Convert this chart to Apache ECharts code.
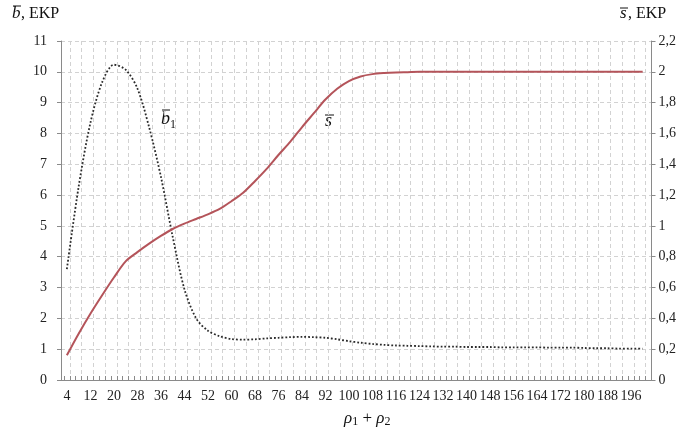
<!DOCTYPE html>
<html><head><meta charset="utf-8">
<script src="https://cdn.jsdelivr.net/npm/echarts@6/dist/echarts.min.js"></script>
<style>html,body{margin:0;padding:0;background:#fff}#c{width:679px;height:435px}</style>
</head><body><div id="c"></div>
<script>
// x positions of the sampled points (rho1 + rho2)
const xs = [4,8,12,16,20,24,28,32,36,40,44,48,52,56,60,64,68,72,76,80,84,88,92,96,100,104,108,112,116,120,124,128,132,136,140,144,148,152,156,160,164,168,172,176,180,184,188,192,196,200];
// b1 (left axis, EKP) - dotted
const bValues = [3.6,6.27,8.34,9.66,10.23,10.07,9.46,8.2,6.6,4.66,2.95,2.0,1.6,1.42,1.33,1.31,1.32,1.35,1.37,1.39,1.40,1.39,1.37,1.32,1.26,1.21,1.17,1.14,1.12,1.11,1.10,1.09,1.08,1.08,1.07,1.07,1.07,1.06,1.06,1.06,1.06,1.05,1.05,1.05,1.04,1.03,1.03,1.02,1.02,1.02];
// s (right axis, EKP) - solid red
const sValues = [0.16,0.30,0.43,0.55,0.665,0.77,0.83,0.885,0.935,0.98,1.015,1.045,1.075,1.11,1.16,1.215,1.29,1.37,1.46,1.545,1.64,1.73,1.82,1.89,1.94,1.97,1.985,1.992,1.996,1.998,2,2,2,2,2,2,2,2,2,2,2,2,2,2,2,2,2,2,2,2];
// x-axis tick labels
const tickLabels = [4,12,20,28,36,44,52,60,68,76,84,92,100,108,116,124,132,140,148,156,164,172,180,188,196];
const xMin = 2, xMax = 203;

const categories = [];
for (let v = xMin; v <= xMax; v++) categories.push(String(v));
const labelSet = new Set(tickLabels.map(String));

const serif = 'Liberation Serif';
const chart = echarts.init(document.getElementById('c'));
const gridLine = {show: true, lineStyle: {color: '#d2d2d2', type: [4, 3], width: 1}};
chart.setOption({
  animation: false,
  backgroundColor: '#fff',
  grid: {left: 61, right: 27, top: 41, bottom: 55},
  xAxis: {
    type: 'category', data: categories, boundaryGap: false,
    axisLine: {lineStyle: {color: '#8a8a8a', width: 1}},
    axisTick: {inside: true, length: 4, lineStyle: {color: '#8a8a8a'}, interval: (i, v) => Number(v) % 2 === 1},
    axisLabel: {interval: (i, v) => labelSet.has(v), margin: 9, color: '#222', fontFamily: serif, fontSize: 14},
    splitLine: Object.assign({interval: (i, v) => (Number(v) - 1) % 4 === 0}, gridLine)
  },
  yAxis: [
    {type: 'value', min: 0, max: 11, interval: 1,
     axisLine: {show: true, lineStyle: {color: '#8a8a8a'}},
     axisTick: {show: true, length: 4, lineStyle: {color: '#8a8a8a'}},
     axisLabel: {margin: 14, color: '#222', fontFamily: serif, fontSize: 14},
     splitLine: gridLine},
    {type: 'value', min: 0, max: 2.2, interval: 0.2, position: 'right',
     axisLine: {show: true, lineStyle: {color: '#8a8a8a'}},
     axisTick: {show: true, length: 4, lineStyle: {color: '#8a8a8a'}},
     axisLabel: {margin: 7, color: '#222', fontFamily: serif, fontSize: 14,
       formatter: v => String(Math.round(v * 10) / 10).replace('.', ',')},
     splitLine: {show: false}}
  ],
  series: [
    {type: 'line', yAxisIndex: 0, smooth: 0.3, symbol: 'none',
     lineStyle: {color: '#2a2a2a', width: 1.8, type: [1.8, 2]},
     data: xs.map((x, i) => [String(x), bValues[i]])},
    {type: 'line', yAxisIndex: 1, smooth: 0.3, symbol: 'none',
     lineStyle: {color: '#b4545a', width: 2},
     data: xs.map((x, i) => [String(x), sValues[i]])}
  ],
  graphic: [
    // left axis title
    {type: 'text', left: 12, top: 5, style: {text: 'b', font: 'italic 17px "Liberation Serif"', fill: '#111'}},
    {type: 'line', shape: {x1: 13, y1: 6, x2: 21, y2: 6}, style: {stroke: '#111', lineWidth: 1}},
    {type: 'text', left: 21, top: 6, style: {text: ', EKP', font: '16px "Liberation Serif"', fill: '#111'}},
    // right axis title
    {type: 'text', left: 620, top: 5, style: {text: 's', font: 'italic 17px "Liberation Serif"', fill: '#111'}},
    {type: 'line', shape: {x1: 620, y1: 8, x2: 628, y2: 8}, style: {stroke: '#111', lineWidth: 1}},
    {type: 'text', left: 628, top: 6, style: {text: ', EKP', font: '16px "Liberation Serif"', fill: '#111'}},
    // curve label b1
    {type: 'text', left: 161, top: 110, style: {text: 'b', font: 'italic 18px "Liberation Serif"', fill: '#111'}},
    {type: 'line', shape: {x1: 162, y1: 110, x2: 170, y2: 110}, style: {stroke: '#111', lineWidth: 1}},
    {type: 'text', left: 170, top: 119, style: {text: '1', font: '12px "Liberation Serif"', fill: '#111'}},
    // curve label s
    {type: 'text', left: 325, top: 112, style: {text: 's', font: 'italic 18px "Liberation Serif"', fill: '#111'}},
    {type: 'line', shape: {x1: 325, y1: 115, x2: 334, y2: 115}, style: {stroke: '#111', lineWidth: 1}},
    // x axis title
    {type: 'text', left: 344, top: 410, style: {
      text: '{i|ρ}{s|1}{n| + }{i|ρ}{s|2}',
      rich: {
        i: {font: 'italic 17px "Liberation Serif"', fill: '#111'},
        s: {font: '12px "Liberation Serif"', fill: '#111', padding: [6, 0, 0, 0]},
        n: {font: '17px "Liberation Serif"', fill: '#111'}
      }}}
  ]
});
</script></body></html>
